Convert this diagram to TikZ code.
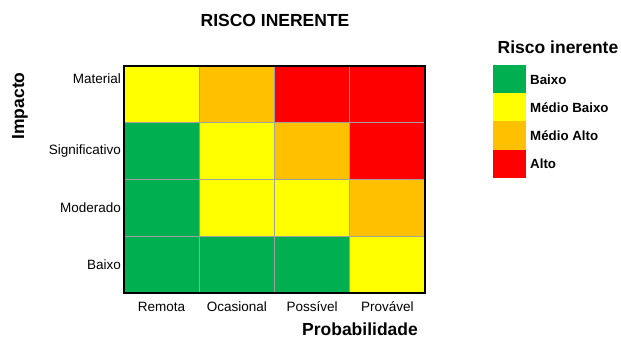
\documentclass[tikz,border=0pt]{standalone}
\usepackage{fontspec}
\setmainfont{Liberation Sans}
\usetikzlibrary{positioning}
\tikzstyle{heatMap} = [x = 1pt, y = -1pt]
\definecolor{lowRisk}{RGB}{0,176,80}
\definecolor{lowMidRisk}{RGB}{255,255,0}
\definecolor{highMidRisk}{RGB}{255,192,0}
\definecolor{highRisk}{RGB}{255,0,0}
\definecolor{gridColor}{RGB}{160,160,160}
\tikzstyle{cellStyle} = [draw=gridColor, line width=1pt]
\tikzstyle{frameStyle} = [draw=black, line width=1.6pt]
\tikzstyle{tickText} = [font=\fontsize{13.5}{16}\selectfont, inner sep=1pt]
\tikzstyle{axisText} = [font=\fontsize{17.5}{21}\selectfont\bfseries, inner sep=1pt]
\tikzstyle{titleText} = [font=\fontsize{17.5}{21}\selectfont\bfseries]
\tikzstyle{legendText} = [font=\fontsize{13.3}{16}\selectfont\bfseries, anchor=west, inner sep=0pt]
\newcommand{\cellW}{75.25}
\newcommand{\cellH}{56.75}
\newcommand{\riskCell}[3]{\filldraw [cellStyle, fill=#3] (124 + #2 * \cellW - \cellW, 66 + #1 * \cellH - \cellH) rectangle + (\cellW, \cellH);}
\newcommand{\legendKey}[3]{\fill [#2] (493, 65 + #1 * 28.25 - 28.25) rectangle + (33, 28.25);
  \node (key#1) [legendText] at (530, 51 + #1 * 28.25) {#3};}

\begin{document}
\begin{tikzpicture}[heatMap]
  \useasboundingbox (0,0) rectangle (621,339);
  \node (mapTitle) [titleText] at (275,20) {RISCO INERENTE};

  % cells, row by row from the top
  \foreach \row/\column/\tone in {1/1/lowMidRisk, 1/2/highMidRisk, 1/3/highRisk, 1/4/highRisk,
                                  2/1/lowRisk, 2/2/lowMidRisk, 2/3/highMidRisk, 2/4/highRisk,
                                  3/1/lowRisk, 3/2/lowMidRisk, 3/3/lowMidRisk, 3/4/highMidRisk,
                                  4/1/lowRisk, 4/2/lowRisk, 4/3/lowRisk, 4/4/lowMidRisk} {
    \riskCell{\row}{\column}{\tone}
  }
  \draw [frameStyle] (124,66) rectangle (425,293);

  \foreach \row/\name/\ypos in {1/Material/79, 2/Significativo/151, 3/Moderado/208, 4/Baixo/265} {
    \node (impact\row) [tickText, anchor=east] at (122,\ypos) {\name};
  }
  \foreach \column/\name in {1/Remota, 2/Ocasional, 3/Possível, 4/Provável} {
    \node (prob\column) [tickText] at ({124 + (\column - 0.5) * \cellW}, 307) {\name};
  }
  \node (probLabel) [axisText] at (360,329) {Probabilidade};
  \node (impactLabel) [axisText, rotate=90] at (20,106) {Impacto};

  % legend
  \node (legendTitle) [titleText] at (558,47) {Risco inerente};
  \legendKey{1}{lowRisk}{Baixo}
  \legendKey{2}{lowMidRisk}{Médio Baixo}
  \legendKey{3}{highMidRisk}{Médio Alto}
  \legendKey{4}{highRisk}{Alto}
\end{tikzpicture}
\end{document}
